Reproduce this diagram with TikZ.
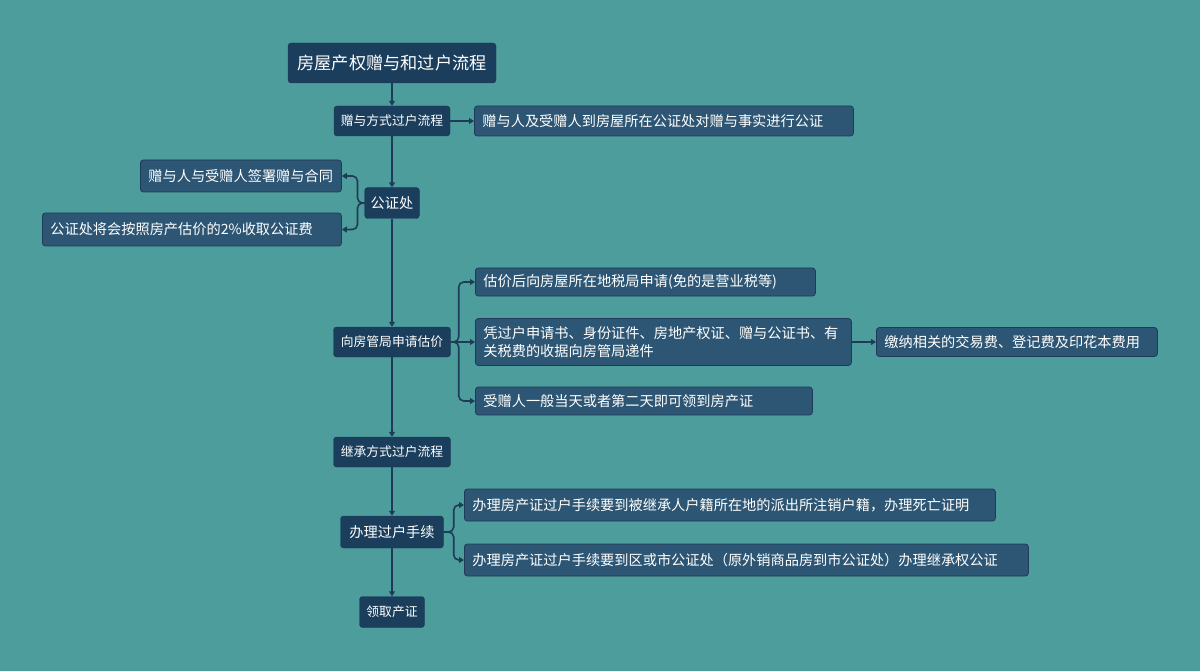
\documentclass[tikz,border=0pt]{standalone}
\usepackage{fontspec}
\setmainfont{Noto Sans CJK SC}
\usetikzlibrary{arrows.meta}
\definecolor{bgteal}{RGB}{78,157,157}
\definecolor{navy}{RGB}{27,62,92}
\definecolor{leafblue}{RGB}{45,86,116}
\definecolor{edgeblue}{RGB}{30,60,88}
\tikzset{
  trunk/.style={fill=navy,draw=edgeblue,rounded corners=3pt,text=white,
    inner xsep=6pt,minimum height=30pt,font=\fontsize{12.8}{15}\selectfont},
  leaf/.style={fill=leafblue,draw=edgeblue,line width=0.8pt,rounded corners=3pt,
    text=white,anchor=west,align=left,inner xsep=8pt,minimum height=30pt,
    font=\fontsize{14.2}{18}\selectfont},
  conn/.style={draw=edgeblue,line width=1.6pt,rounded corners=5pt,
    -{Triangle[length=5pt,width=6pt]}}
}
\begin{document}
\begin{tikzpicture}[x=1pt,y=-1pt]
  \fill[bgteal] (0,0) rectangle (1200,671);
  \useasboundingbox (0,0) rectangle (1200,671);
  % main column
  \node[trunk,minimum width=208pt,minimum height=40pt,
    font=\fontsize{17.2}{20}\selectfont] (root) at (392,63) {房屋产权赠与和过户流程};
  \node[trunk,minimum width=116pt] (gift) at (392,121) {赠与方式过户流程};
  \node[trunk,font=\fontsize{14.2}{17}\selectfont,minimum height=31pt] (notary) at (392,203) {公证处};
  \node[trunk,minimum width=117pt] (estimate) at (392,342) {向房管局申请估价};
  \node[trunk,minimum width=117pt] (inherit) at (392,452) {继承方式过户流程};
  \node[trunk,font=\fontsize{14.2}{17}\selectfont,minimum width=103pt,minimum height=32pt] (handle) at (392,532) {办理过户手续};
  \node[trunk,minimum width=65pt,minimum height=31pt] (collect) at (392,612) {领取产证};
  % leaves
  \node[leaf,text width=363pt] (giftnote) at (474,121) {赠与人及受赠人到房屋所在公证处对赠与事实进行公证};
  \node[leaf,text width=185pt,minimum height=32pt] (sign) at (140,176) {赠与人与受赠人签署赠与合同};
  \node[leaf,text width=283pt,minimum height=33pt] (fee) at (42,229.5) {公证处将会按照房产估价的2\%收取公证费};
  \node[leaf,text width=324pt,minimum height=28pt] (taxapply) at (475,282) {估价后向房屋所在地税局申请(免的是营业税等)};
  \node[leaf,text width=360pt,minimum height=47pt,inner ysep=3pt] (docs) at (475,342) {凭过户申请书、身份证件、房地产权证、赠与公证书、有\\关税费的收据向房管局递件};
  \node[leaf,text width=321pt,minimum height=28pt] (getcert) at (475,401) {受赠人一般当天或者第二天即可领到房产证};
  \node[leaf,text width=265pt,minimum height=29pt] (pay) at (876,342) {缴纳相关的交易费、登记费及印花本费用};
  \node[leaf,text width=515pt,minimum height=32pt] (cancel) at (464,505) {办理房产证过户手续要到被继承人户籍所在地的派出所注销户籍，办理死亡证明};
  \node[leaf,text width=548pt,minimum height=32pt] (inhnotary) at (464,560) {办理房产证过户手续要到区或市公证处（原外销商品房到市公证处）办理继承权公证};
  % spine
  \draw[conn] (root) -- (gift);
  \draw[conn] (gift) -- (notary);
  \draw[conn] (notary) -- (estimate);
  \draw[conn] (estimate) -- (inherit);
  \draw[conn] (inherit) -- (handle);
  \draw[conn] (handle) -- (collect);
  % branches
  \draw[conn] (gift.east) -- (giftnote.west);
  \draw[conn] (notary.west) -- ++(-7,0) |- (sign.east);
  \draw[conn] (notary.west) -- ++(-7,0) |- (fee.east);
  \draw[conn] (estimate.east) -- ++(8,0) |- (taxapply.west);
  \draw[conn] (estimate.east) -- (docs.west);
  \draw[conn] (estimate.east) -- ++(8,0) |- (getcert.west);
  \draw[conn] (docs.east) -- (pay.west);
  \draw[conn] (handle.east) -- ++(10,0) |- (cancel.west);
  \draw[conn] (handle.east) -- ++(10,0) |- (inhnotary.west);
\end{tikzpicture}
\end{document}
